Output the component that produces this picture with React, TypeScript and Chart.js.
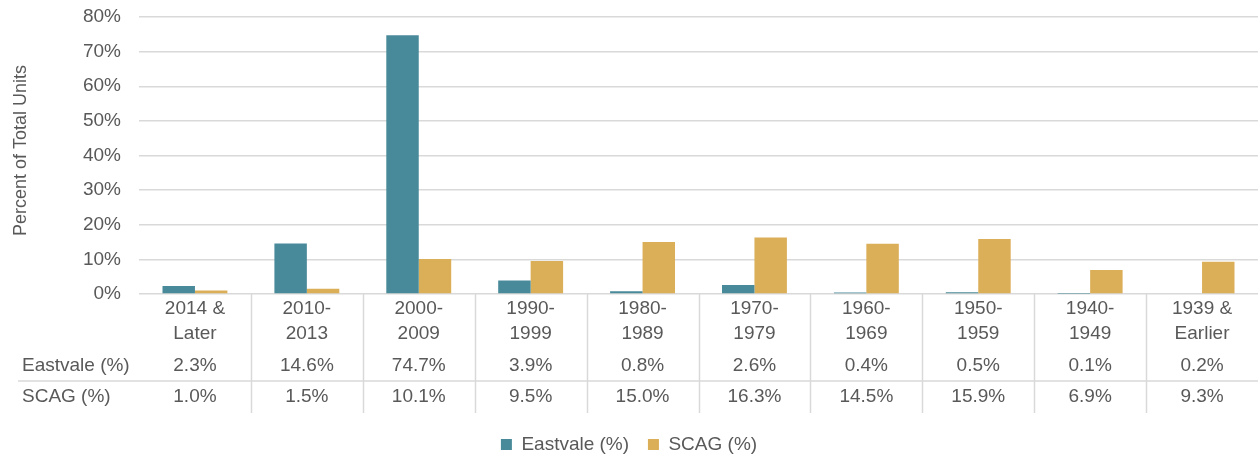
import React, { useEffect, useRef } from "react";
import { Chart, registerables } from "chart.js";

Chart.register(...registerables);

const categories: string[][] = [
  ["2014 &", "Later"],
  ["2010-", "2013"],
  ["2000-", "2009"],
  ["1990-", "1999"],
  ["1980-", "1989"],
  ["1970-", "1979"],
  ["1960-", "1969"],
  ["1950-", "1959"],
  ["1940-", "1949"],
  ["1939 &", "Earlier"],
];
const seriesNames = ["Eastvale (%)", "SCAG (%)"];
const eastvale = [2.3, 14.6, 74.7, 3.9, 0.8, 2.6, 0.4, 0.5, 0.1, 0.2];
const scag = [1.0, 1.5, 10.1, 9.5, 15.0, 16.3, 14.5, 15.9, 6.9, 9.3];
const yMax = 80;
const yStep = 10;
const yTitle = "Percent of Total Units";

const FONT = "'Liberation Sans', Arial, sans-serif";
const TEXT = "#595959";
const GRID = "#d9d9d9";
const COLORS = ["#488A99", "#DBAE58"];
const FS = 19;

const tablePlugin = {
  id: "dataTable",
  afterDraw(chart: any) {
    const ctx = chart.ctx;
    const xs = chart.scales.x;
    const area = chart.chartArea;
    const top = area.bottom;
    const n = categories.length;
    const centers = categories.map((_, i) => xs.getPixelForValue(i));
    const half = (centers[1] - centers[0]) / 2;
    ctx.save();
    ctx.strokeStyle = GRID;
    ctx.lineWidth = 1.5;
    for (let i = 1; i < n; i++) {
      const bx = Math.round(centers[i] - half) + 0.5;
      ctx.beginPath();
      ctx.moveTo(bx, top);
      ctx.lineTo(bx, top + 119);
      ctx.stroke();
    }
    ctx.beginPath();
    ctx.moveTo(18, top + 87);
    ctx.lineTo(area.right, top + 87);
    ctx.stroke();

    ctx.fillStyle = TEXT;
    ctx.font = `${FS}px ${FONT}`;
    ctx.textAlign = "center";
    ctx.textBaseline = "middle";
    categories.forEach((lines, i) => {
      lines.forEach((t, j) => ctx.fillText(t, centers[i], top + 15 + j * 25));
    });
    const rows = [eastvale, scag];
    const rowY = [top + 72, top + 103];
    rows.forEach((vals, r) => {
      vals.forEach((v, i) => ctx.fillText(v.toFixed(1) + "%", centers[i], rowY[r]));
    });
    ctx.textAlign = "left";
    seriesNames.forEach((name, r) => ctx.fillText(name, 22, rowY[r]));
    ctx.restore();
  },
};

export default function App() {
  const ref = useRef<HTMLCanvasElement | null>(null);
  useEffect(() => {
    document.body.style.margin = "0";
    const chart = new Chart(ref.current as HTMLCanvasElement, {
      type: "bar",
      data: {
        labels: categories.map((c) => c.join(" ")),
        datasets: [
          { label: seriesNames[0], data: eastvale, backgroundColor: COLORS[0] },
          { label: seriesNames[1], data: scag, backgroundColor: COLORS[1] },
        ],
      },
      options: {
        animation: false,
        responsive: false,
        maintainAspectRatio: false,
        layout: { padding: { top: 17, right: 2, bottom: -7, left: 0 } },
        datasets: {
          bar: { categoryPercentage: 0.58, barPercentage: 1 },
        },
        plugins: {
          tooltip: { enabled: false },
          legend: {
            position: "bottom",
            labels: {
              font: { family: FONT, size: FS },
              color: TEXT,
              boxWidth: 11,
              boxHeight: 11,
              padding: 3,
              generateLabels: (c: any) => {
                const items = Chart.defaults.plugins.legend.labels.generateLabels(c);
                return items.map((it: any, i: number) =>
                  i < items.length - 1 ? { ...it, text: it.text + "   " } : it
                );
              },
            },
          },
        },
        scales: {
          x: {
            grid: { display: false },
            border: { display: false },
            ticks: { display: false },
            afterFit: (s: any) => {
              s.height = 138;
            },
          },
          y: {
            min: 0,
            max: yMax,
            border: { display: false },
            grid: { color: GRID, lineWidth: 1.5, drawTicks: false },
            ticks: {
              stepSize: yStep,
              padding: 18,
              color: TEXT,
              font: { family: FONT, size: FS },
              callback: (v: any) => v + "%",
            },
            title: {
              display: true,
              text: "  " + yTitle,
              color: TEXT,
              font: { family: FONT, size: 18 },
              padding: { top: 10, bottom: 0 },
            },
            afterFit: (s: any) => {
              s.width = 139;
              s.paddingTop = 0;
              s.paddingBottom = 0;
            },
          },
        },
      },
      plugins: [tablePlugin],
    });
    return () => chart.destroy();
  }, []);
  return (
    <div style={{ width: 1260, height: 457, position: "relative" }}>
      <canvas ref={ref} width={1260} height={457} style={{ width: 1260, height: 457 }} />
    </div>
  );
}
